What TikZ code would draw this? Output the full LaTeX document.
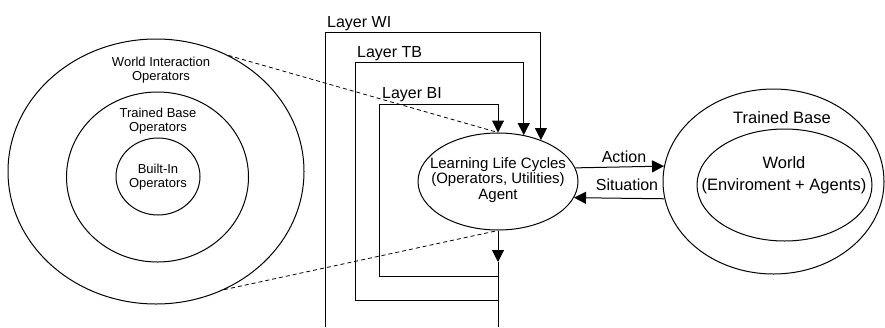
\documentclass[tikz,border=0pt]{standalone}
\usepackage{fontspec}
\setmainfont{Liberation Sans}
\usetikzlibrary{arrows.meta,shapes.geometric}
\tikzstyle{ring}=[draw, ellipse, inner sep=0pt, line width=1pt]
\tikzstyle{txt}=[align=center, inner sep=0pt]
\tikzstyle{wire}=[draw=black, line width=1pt]
\tikzstyle{arrow}=[draw=black, line width=1pt, -{Triangle[length=12pt,width=12pt]}]
\tikzstyle{link}=[draw=black, line width=0.8pt, dash pattern=on 4pt off 3pt]

\begin{document}
\begin{tikzpicture}[x=1pt, y=-1pt]
		   \useasboundingbox (0,0) rectangle (885,327);
		   \begin{scope}
			   % operator rings
			   \node (wio) at (156,171.5)[ring, minimum width=296pt, minimum height=265pt] {};
			   \node (tbo) at (157.5,177)[ring, minimum width=182pt, minimum height=170pt] {};
			   \node (bio) at (158,176.5)[ring, minimum width=84pt, minimum height=77pt] {};
			   \node (wiotxt) at (161,70)[txt, font=\fontsize{13}{14.5}\selectfont] {World Interaction\\Operators};
			   \node (tbotxt) at (158,121)[txt, font=\fontsize{13}{14.5}\selectfont] {Trained Base\\Operators};
			   \node (biotxt) at (158,177)[txt, font=\fontsize{13}{14.5}\selectfont] {Built-In\\Operators};
			   % agent
			   \node (agent) at (498,181.5)[ring, minimum width=160pt, minimum height=97pt] {};
			   \node (agenttxt) at (498,180)[txt, font=\fontsize{15}{15.5}\selectfont] {Learning Life Cycles\\(Operators, Utilities)\\Agent};
			   % world
			   \node (tbw) at (773.5,181.5)[ring, minimum width=221pt, minimum height=185pt] {};
			   \node (world) at (784.5,185)[ring, minimum width=175pt, minimum height=112pt] {};
			   \node (tbwtxt) at (782,118)[txt, font=\fontsize{16.5}{18}\selectfont] {Trained Base};
			   \node (worldtxt) at (784,175)[txt, font=\fontsize{16.5}{22}\selectfont] {World\\(Enviroment + Agents)};
			   % layers
			   \node (wilbl) at (327,27)[txt, anchor=base west, font=\fontsize{16}{18}\selectfont] {Layer WI};
			   \node (tblbl) at (357,57)[txt, anchor=base west, font=\fontsize{16}{18}\selectfont] {Layer TB};
			   \node (bilbl) at (382,98)[txt, anchor=base west, font=\fontsize{16}{18}\selectfont] {Layer BI};
			   \node (actlbl) at (624,157)[txt, font=\fontsize{16}{18}\selectfont] {Action};
			   \node (sitlbl) at (627,185)[txt, font=\fontsize{16}{18}\selectfont] {Situation};
			   \coordinate (mid) at (498,262);
			   \coordinate (bi1) at (498,276);
			   \coordinate (tb1) at (498,300);
			   \coordinate (out) at (498,327);
			   \coordinate (bi2) at (379,104);
			   \coordinate (tb2) at (355,62);
			   \coordinate (wi1) at (325,327);
			   \coordinate (wi2) at (325,32);
		   \end{scope}
		   \begin{scope}
			   \draw [link] (wio.58) -- (agent.north);
			   \draw [link] (wio.-60) -- (agent.south);
			   \draw [arrow] (agent.south) -- (mid);
			   \draw [wire] (mid) -- (out);
			   \draw [arrow] (bi1) -| (bi2) -| (agent.north);
			   \draw [arrow] (tb1) -| (tb2) -| (agent.61.5);
			   \draw [arrow] (wi1) -- (wi2) -| (agent.44.5);
			   \draw [arrow] (agent.10.8) -- (tbw.172.4);
			   \draw [arrow] (tbw.-171.4) -- (agent.-12.4);
		   \end{scope}
	   \end{tikzpicture}
\end{document}
